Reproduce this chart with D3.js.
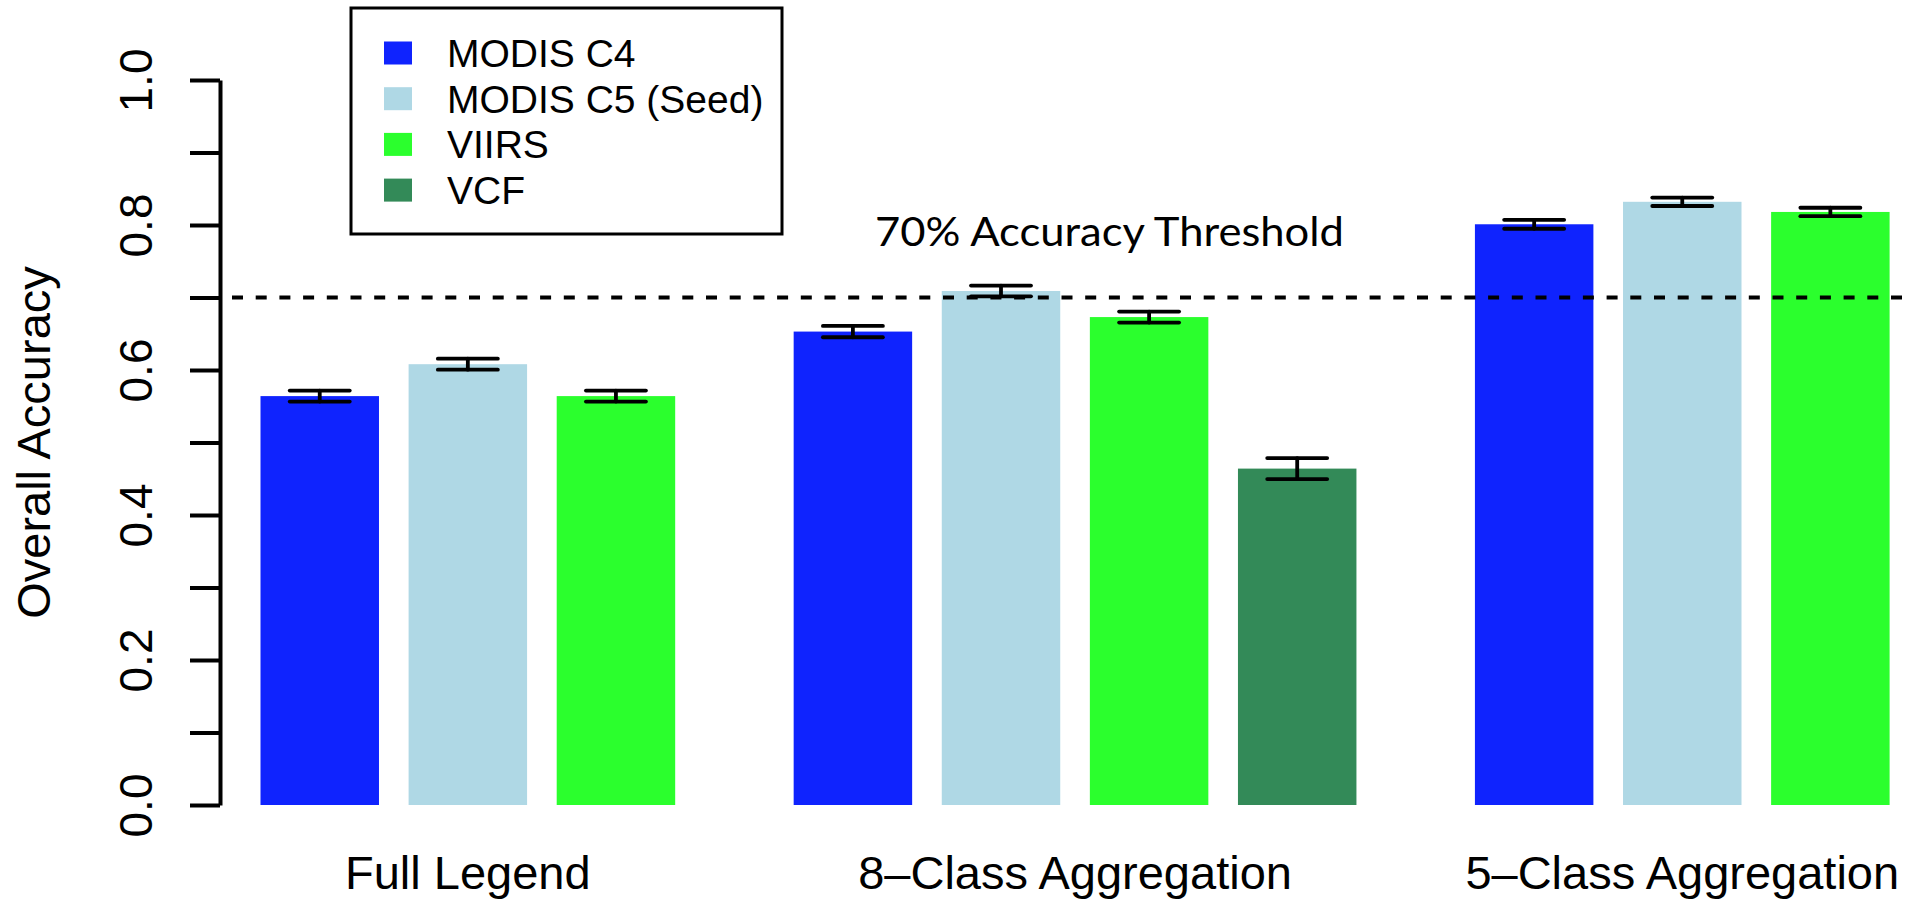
<!DOCTYPE html>
<html>
<head>
<meta charset="utf-8">
<script src="https://cdn.jsdelivr.net/npm/d3@7"></script>
<style>
  body { margin: 0; background: #fff; }
  text { font-family: "Liberation Sans", Arial, sans-serif; }
</style>
</head>
<body>
<div id="chart"></div>
<script>
/* Overall accuracy by legend aggregation level */

const groups = ["Full Legend", "8–Class Aggregation", "5–Class Aggregation"];
const series = ["MODIS C4", "MODIS C5 (Seed)", "VIIRS", "VCF"];
const seriesColors = ["#0f23fe", "#afd8e5", "#2bff2d", "#338a58"];

// accuracy per group (bars in series order)
const fullLegendAcc = [0.564, 0.608, 0.564];
const eightClassAcc = [0.653, 0.709, 0.673, 0.464];
const fiveClassAcc  = [0.801, 0.832, 0.818];

// +/- error bar half widths
const fullLegendErr = [0.0076, 0.0076, 0.0076];
const eightClassErr = [0.0078, 0.0074, 0.0076, 0.0145];
const fiveClassErr  = [0.0062, 0.0058, 0.0058];

const yTicks = [0, 0.1, 0.2, 0.3, 0.4, 0.5, 0.6, 0.7, 0.8, 0.9, 1.0];
const yTickLabels = ["0.0", "", "0.2", "", "0.4", "", "0.6", "", "0.8", "", "1.0"];

const threshold = 0.7;
const thresholdLabel = "70% Accuracy Threshold";

const accByGroup = [fullLegendAcc, eightClassAcc, fiveClassAcc];
const errByGroup = [fullLegendErr, eightClassErr, fiveClassErr];

const width = 1909,
      height = 900;

const barW = 1, barStep = 1.25, groupGap = 1;

// lay bars out in "bar units"
let data = [];
let offset = 0;
let groupSpans = [];
accByGroup.forEach((vals, g) => {
    let start = offset;
    vals.forEach((v, i) => {
        data.push({group: g, series: i, value: v, err: errByGroup[g][i], pos: offset + i * barStep});
    });
    let end = offset + (vals.length - 1) * barStep + barW;
    groupSpans.push({group: g, start: start, end: end});
    offset = end + groupGap;
});
const totalUnits = offset - groupGap;

let svg = d3.select("#chart")
    .append("svg")
    .attr("width", width)
    .attr("height", height)
    .attr("viewBox", [0, 0, width, height]);

let x = d3.scaleLinear()
    .domain([0, totalUnits])
    .range([260.5, 1889.6]);

let y = d3.scaleLinear()
    .domain([0, 1])
    .range([805, 80]);

// bars
let bar = svg.selectAll(".bar")
    .data(data)
    .join("g")
    .attr("class", "bar");

bar.append("rect")
    .attr("fill", d => seriesColors[d.series])
    .attr("x", d => x(d.pos))
    .attr("width", x(barW) - x(0))
    .attr("y", d => y(d.value))
    .attr("height", d => y(0) - y(d.value));

// error bars
const capHalf = 30;
let eb = bar.append("g")
    .attr("stroke", "#000")
    .attr("stroke-width", 3.8)
    .attr("stroke-linecap", "round");

eb.append("line")
    .attr("x1", d => x(d.pos + barW / 2))
    .attr("x2", d => x(d.pos + barW / 2))
    .attr("y1", d => y(d.value - d.err))
    .attr("y2", d => y(d.value + d.err));

eb.append("line")
    .attr("x1", d => x(d.pos + barW / 2) - capHalf)
    .attr("x2", d => x(d.pos + barW / 2) + capHalf)
    .attr("y1", d => y(d.value + d.err))
    .attr("y2", d => y(d.value + d.err));

eb.append("line")
    .attr("x1", d => x(d.pos + barW / 2) - capHalf)
    .attr("x2", d => x(d.pos + barW / 2) + capHalf)
    .attr("y1", d => y(d.value - d.err))
    .attr("y2", d => y(d.value - d.err));

// threshold line, drawn over the bars
svg.append("line")
    .attr("x1", 232)
    .attr("x2", width)
    .attr("y1", y(threshold))
    .attr("y2", y(threshold))
    .attr("stroke", "#000")
    .attr("stroke-width", 4)
    .attr("stroke-dasharray", "11 12.7");

svg.append("text")
    .attr("x", 875)
    .attr("y", y(threshold) - 52)
    .style("font-family", "Lato, 'Open Sans', sans-serif")
    .attr("font-size", 41)
    .attr("textLength", 469)
    .attr("lengthAdjust", "spacingAndGlyphs")
    .text(thresholdLabel);

// y axis
const yAxis = g => g
    .attr("transform", `translate(220,0)`)
    .call(d3.axisLeft(y)
        .tickValues(yTicks)
        .tickSize(30)
        .tickSizeOuter(0)
        .tickFormat((d, i) => yTickLabels[i]))
    .call(g => g.select(".domain").attr("stroke-width", 4))
    .call(g => g.selectAll(".tick line").attr("stroke-width", 4))
    .call(g => g.selectAll(".tick text")
        .attr("x", null)
        .attr("dy", null)
        .attr("transform", "translate(-68,0) rotate(-90)")
        .attr("text-anchor", "middle")
        .attr("fill", "#000")
        .attr("font-size", 46)
        .attr("font-family", "Liberation Sans, Arial, sans-serif"));

svg.append("g")
    .call(yAxis);

svg.append("text")
    .attr("transform", `translate(50,${(y(0) + y(1)) / 2}) rotate(-90)`)
    .attr("text-anchor", "middle")
    .attr("font-size", 47)
    .text("Overall Accuracy");

// group labels
svg.selectAll(".glabel")
    .data(groupSpans)
    .join("text")
    .attr("class", "glabel")
    .attr("x", d => x((d.start + d.end) / 2))
    .attr("y", 889)
    .attr("text-anchor", "middle")
    .attr("font-size", 47)
    .text(d => groups[d.group]);

// legend
let legend = svg.append("g");

legend.append("rect")
    .attr("x", 351)
    .attr("y", 8)
    .attr("width", 431)
    .attr("height", 226)
    .attr("fill", "#fff")
    .attr("stroke", "#000")
    .attr("stroke-width", 3);

let item = legend.selectAll(".item")
    .data(series)
    .join("g")
    .attr("class", "item")
    .attr("transform", (d, i) => `translate(0,${53 + i * 45.7})`);

item.append("rect")
    .attr("x", 384)
    .attr("y", -11.5)
    .attr("width", 28)
    .attr("height", 23)
    .attr("fill", (d, i) => seriesColors[i]);

item.append("text")
    .attr("x", 447)
    .attr("y", 14)
    .attr("font-size", 39)
    .text(d => d);
</script>
</body>
</html>
